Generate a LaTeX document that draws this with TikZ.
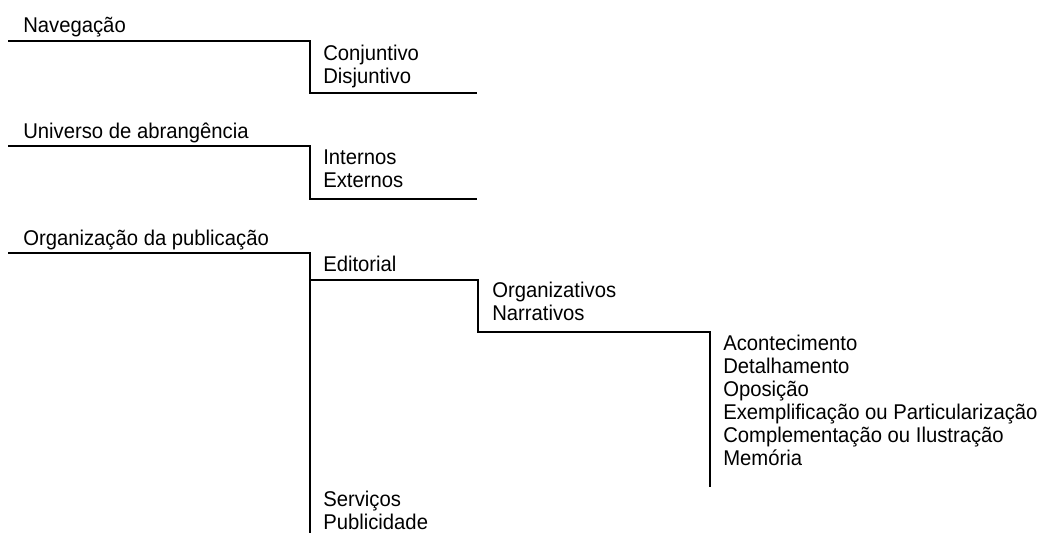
\documentclass[tikz,border=0pt]{standalone}
\usepackage{fontspec}
\setmainfont{Liberation Sans}[FakeStretch=0.95]
\usepackage{tikz}

\begin{document}
\begin{tikzpicture}[x=0.75pt,y=-0.75pt]

\tikzset{entry/.style = {anchor=base west,inner sep=0pt,font=\fontsize{16}{19}\selectfont}}
\tikzset{bracket/.style = {line width=1.6pt}}

\useasboundingbox (0,0) rectangle (1042,533);

% first group
\node[entry] (nav) at (23,32) {Navegação};
\node[entry] (conj) at (323,60) {Conjuntivo};
\node[entry] (disj) at (323,83) {Disjuntivo};

\coordinate (nav0) at (8,41);
\coordinate (nav1) at (310,41);
\coordinate (nav2) at (477,93);
\draw[bracket] (nav0) -- (nav1) |- (nav2);

% second group
\node[entry] (uni) at (23,138) {Universo de abrangência};
\node[entry] (int) at (323,164) {Internos};
\node[entry] (ext) at (323,187) {Externos};

\coordinate (uni0) at (8,146);
\coordinate (uni1) at (310,146);
\coordinate (uni2) at (477,199);
\draw[bracket] (uni0) -- (uni1) |- (uni2);

% third group
\node[entry] (org) at (23,245) {Organização da publicação};
\node[entry] (edi) at (323,271) {Editorial};
\node[entry] (orgz) at (492,297) {Organizativos};
\node[entry] (narr) at (492,320) {Narrativos};
\node[entry] (aco) at (723,350) {Acontecimento};
\node[entry] (det) at (723,373) {Detalhamento};
\node[entry] (opo) at (723,396) {Oposição};
\node[entry] (exe) at (723,419) {Exemplificação ou Particularização};
\node[entry] (com) at (723,442) {Complementação ou Ilustração};
\node[entry] (mem) at (723,465) {Memória};
\node[entry] (serv) at (323,506) {Serviços};
\node[entry] (pub) at (323,529) {Publicidade};

\coordinate (org0) at (8,253);
\coordinate (org1) at (310,253);
\coordinate (org2) at (310,533);
\draw[bracket] (org0) -- (org1) -- (org2);

\coordinate (edi0) at (310,280);
\coordinate (edi1) at (478,280);
\coordinate (nar0) at (710,332);
\coordinate (nar1) at (710,487);
\draw[bracket] (edi0) -- (edi1) |- (nar0) -- (nar1);

\end{tikzpicture}
\end{document}
